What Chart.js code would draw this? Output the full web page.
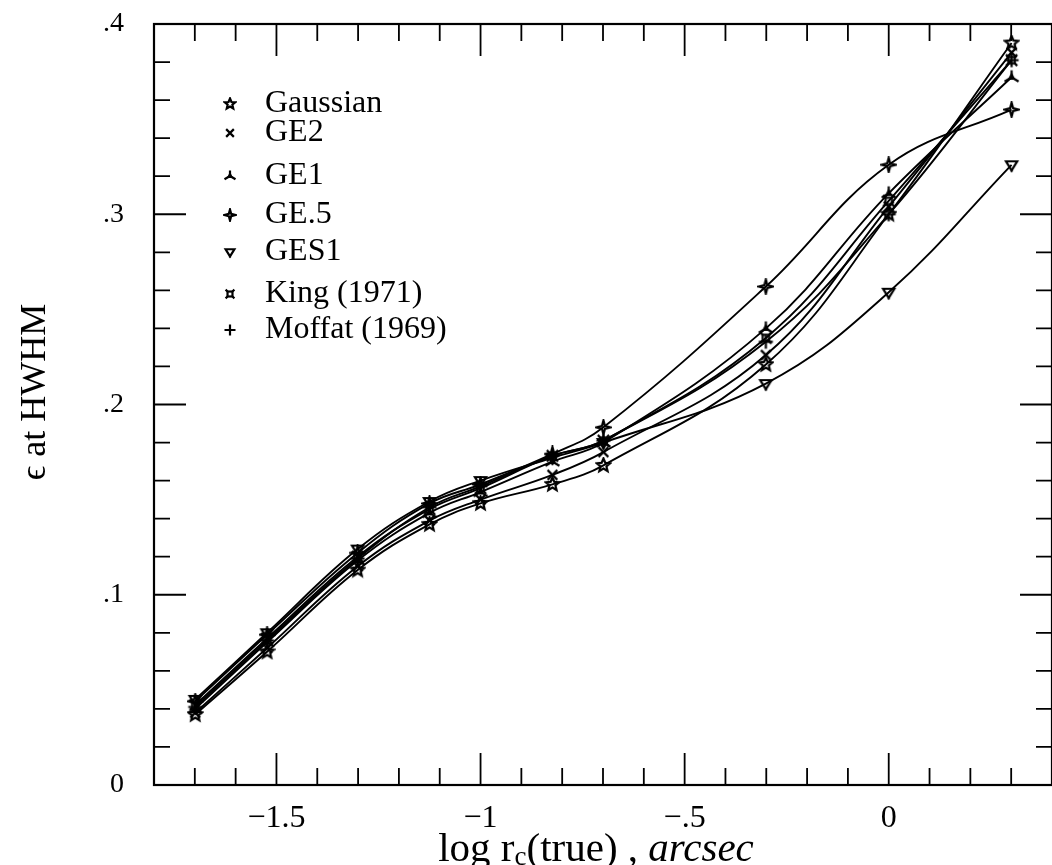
<!DOCTYPE html>
<html>
<head>
<meta charset="utf-8">
<script src="https://cdn.jsdelivr.net/npm/chart.js@4.4.0/dist/chart.umd.min.js"></script>
<style>
  body { margin: 0; background: #fff; }
  canvas { display: block; }
</style>
</head>
<body>
<canvas id="fwhmChart" width="1052" height="865"></canvas>
<script>
// log r_c(true) em arcsec
const logRc = [-1.699, -1.523, -1.301, -1.125, -1.0, -0.824, -0.699, -0.301, 0.0, 0.301];

const gaussian = [0.037, 0.070, 0.113, 0.137, 0.148, 0.158, 0.168, 0.221, 0.300, 0.390];
const ge2 = [0.038, 0.072, 0.115, 0.139, 0.150, 0.163, 0.175, 0.226, 0.304, 0.385];
const ge1 = [0.040, 0.075, 0.118, 0.143, 0.154, 0.170, 0.180, 0.240, 0.311, 0.372];
const geHalf = [0.044, 0.079, 0.122, 0.148, 0.158, 0.174, 0.188, 0.262, 0.326, 0.355];
const ges1 = [0.045, 0.080, 0.124, 0.149, 0.160, 0.172, 0.180, 0.211, 0.259, 0.326];
const king = [0.042, 0.077, 0.120, 0.145, 0.156, 0.173, 0.181, 0.235, 0.307, 0.381];
const moffat = [0.041, 0.076, 0.119, 0.146, 0.157, 0.173, 0.181, 0.233, 0.300, 0.381];

const xTicks = [-1.5, -1, -0.5, 0];
const xTickLabels = ['\u22121.5', '\u22121', '\u2212.5', '0'];
const yTicks = [0, 0.1, 0.2, 0.3, 0.4];
const yTickLabels = ['0', '.1', '.2', '.3', '.4'];

function makeMarker(kind, s) {
    const c = document.createElement('canvas');
    c.width = s;
    c.height = s;
    const g = c.getContext('2d');
    const m = s / 2, r = s / 2 - 1.5;
    g.strokeStyle = '#000';
    g.fillStyle = '#000';
    g.lineWidth = 2.2;
    g.beginPath();
    if (kind === 'star5') {
        for (let i = 0; i < 10; i++) {
            const a = -Math.PI / 2 + i * Math.PI / 5;
            const rr = i % 2 ? r * 0.45 : r;
            g.lineTo(m + rr * Math.cos(a), m + rr * Math.sin(a));
        }
        g.closePath();
        g.stroke();
    } else if (kind === 'x') {
        const d = r * 0.7;
        g.moveTo(m - d, m - d); g.lineTo(m + d, m + d);
        g.moveTo(m + d, m - d); g.lineTo(m - d, m + d);
        g.stroke();
    } else if (kind === 'tri') {
        g.moveTo(m, m - r * 0.8);
        g.lineTo(m + r * 0.55, m + r * 0.35);
        g.lineTo(m - r * 0.55, m + r * 0.35);
        g.closePath();
        g.fill();
        g.beginPath();
        g.moveTo(m, m - r); g.lineTo(m, m);
        g.moveTo(m, m); g.lineTo(m + r, m + r * 0.6);
        g.moveTo(m, m); g.lineTo(m - r, m + r * 0.6);
        g.stroke();
    } else if (kind === 'star4') {
        for (let i = 0; i < 8; i++) {
            const a = -Math.PI / 2 + i * Math.PI / 4;
            const rr = i % 2 ? r * 0.3 : r;
            g.lineTo(m + rr * Math.cos(a), m + rr * Math.sin(a));
        }
        g.closePath();
        g.stroke();
    } else if (kind === 'triDown') {
        g.moveTo(m - r * 0.8, m - r * 0.5);
        g.lineTo(m + r * 0.8, m - r * 0.5);
        g.lineTo(m, m + r * 0.8);
        g.closePath();
        g.stroke();
        g.beginPath();
        g.moveTo(m, m + r * 0.8); g.lineTo(m, m + r);
        g.stroke();
    } else if (kind === 'king') {
        const d = r * 0.45;
        g.strokeRect(m - d, m - d, 2 * d, 2 * d);
        g.beginPath();
        g.moveTo(m - d, m - d); g.lineTo(m - r * 0.8, m - r * 0.8);
        g.moveTo(m + d, m - d); g.lineTo(m + r * 0.8, m - r * 0.8);
        g.moveTo(m - d, m + d); g.lineTo(m - r * 0.8, m + r * 0.8);
        g.moveTo(m + d, m + d); g.lineTo(m + r * 0.8, m + r * 0.8);
        g.stroke();
    } else if (kind === 'plus') {
        g.moveTo(m - r, m); g.lineTo(m + r, m);
        g.moveTo(m, m - r); g.lineTo(m, m + r);
        g.stroke();
    }
    return c;
}

const series = [
    { label: 'Gaussian', data: gaussian, kind: 'star5', legendY: 104 },
    { label: 'GE2', data: ge2, kind: 'x', legendY: 133 },
    { label: 'GE1', data: ge1, kind: 'tri', legendY: 176 },
    { label: 'GE.5', data: geHalf, kind: 'star4', legendY: 215 },
    { label: 'GES1', data: ges1, kind: 'triDown', legendY: 252 },
    { label: 'King (1971)', data: king, kind: 'king', legendY: 294 },
    { label: 'Moffat (1969)', data: moffat, kind: 'plus', legendY: 330 }
];

series.forEach(s => {
    s.marker = makeMarker(s.kind, 17);
    s.legendMarker = makeMarker(s.kind, 14);
});

const moldura = {
    id: 'moldura',
    afterDraw(chart) {
        const ctx = chart.ctx;
        const area = chart.chartArea;
        const xs = chart.scales.x;
        const ys = chart.scales.y;
        ctx.save();
        ctx.strokeStyle = '#000';
        ctx.lineWidth = 2.2;
        ctx.strokeRect(area.left, area.top, area.right - area.left, area.bottom - area.top);

        ctx.lineWidth = 1.8;
        ctx.beginPath();
        for (let i = -17; i <= 3; i++) {
            const v = i / 10;
            const px = xs.getPixelForValue(v);
            const len = i % 5 === 0 ? 32 : 17;
            ctx.moveTo(px, area.bottom); ctx.lineTo(px, area.bottom - len);
            ctx.moveTo(px, area.top); ctx.lineTo(px, area.top + len);
        }
        for (let i = 1; i <= 19; i++) {
            const v = i / 50;
            const py = ys.getPixelForValue(v);
            const len = i % 5 === 0 ? 32 : 16;
            ctx.moveTo(area.left, py); ctx.lineTo(area.left + len, py);
            ctx.moveTo(area.right, py); ctx.lineTo(area.right - len, py);
        }
        ctx.stroke();

        ctx.fillStyle = '#000';
        ctx.textBaseline = 'middle';
        ctx.font = '32px "Liberation Serif", serif';
        series.forEach(s => {
            ctx.drawImage(s.legendMarker, 230 - 7, s.legendY - 7);
            ctx.fillText(s.label, 265, s.legendY);
        });

        // titulo do eixo x com subscrito e italico
        const y0 = 850;
        const parts = [
            { t: 'log r', f: '41px "Liberation Serif", serif', dy: 0 },
            { t: 'c', f: '27px "Liberation Serif", serif', dy: 8 },
            { t: '(true) , ', f: '41px "Liberation Serif", serif', dy: 0 },
            { t: 'arcsec', f: 'italic 41px "Liberation Serif", serif', dy: 0 }
        ];
        let total = 0;
        parts.forEach(p => { ctx.font = p.f; p.w = ctx.measureText(p.t).width; total += p.w; });
        let cx = 596 - total / 2;
        ctx.textAlign = 'left';
        parts.forEach(p => {
            ctx.font = p.f;
            ctx.fillText(p.t, cx, y0 + p.dy);
            cx += p.w;
        });

        ctx.translate(36, 392);
        ctx.rotate(-Math.PI / 2);
        ctx.textAlign = 'center';
        ctx.font = '36px "Liberation Serif", "DejaVu Serif", serif';
        ctx.fillText('\u03f5 at HWHM', 0, 0);
        ctx.restore();
    }
};

const ctx = document.getElementById('fwhmChart').getContext('2d');
const fwhmChart = new Chart(ctx, {
    type: 'line',
    data: {
        datasets: series.map(s => ({
            label: s.label,
            data: logRc.map((x, i) => ({ x: x, y: s.data[i] })),
            borderColor: '#000',
            borderWidth: 1.9,
            fill: false,
            tension: 0.4,
            pointStyle: s.marker,
            pointRadius: 8
        }))
    },
    options: {
        responsive: false,
        animation: false,
        layout: {
            autoPadding: false,
            padding: { top: 24, right: 0, left: 0, bottom: 0 }
        },
        plugins: {
            legend: { display: false },
            tooltip: { enabled: false }
        },
        scales: {
            x: {
                type: 'linear',
                min: -1.8,
                max: 0.4,
                afterFit: s => {
                    s.height = 80;
                    s.paddingLeft = 0;
                    s.paddingRight = 0;
                },
                afterBuildTicks: s => { s.ticks = xTicks.map(v => ({ value: v })); },
                grid: { display: false },
                border: { display: false },
                ticks: {
                    color: '#000',
                    padding: 6,
                    font: { family: '"Liberation Serif", serif', size: 32 },
                    callback: (v, i) => xTickLabels[i]
                }
            },
            y: {
                min: 0,
                max: 0.4,
                afterFit: s => {
                    s.width = 154;
                    s.paddingTop = 0;
                    s.paddingBottom = 0;
                },
                afterBuildTicks: s => { s.ticks = yTicks.map(v => ({ value: v })); },
                grid: { display: false },
                border: { display: false },
                ticks: {
                    color: '#000',
                    padding: 22,
                    font: { family: '"Liberation Serif", serif', size: 28 },
                    callback: (v, i) => yTickLabels[i]
                }
            }
        }
    },
    plugins: [moldura]
});
</script>
</body>
</html>
